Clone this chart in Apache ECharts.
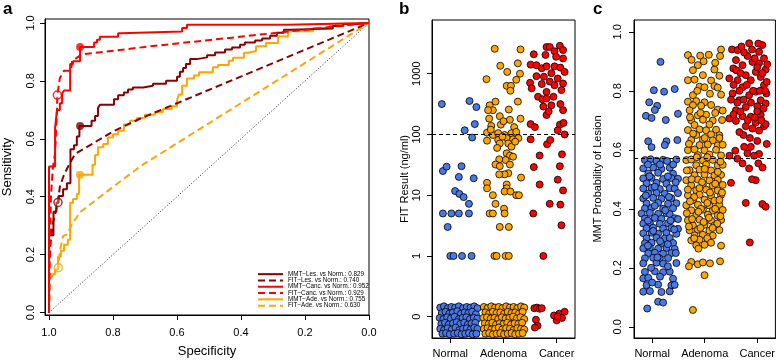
<!DOCTYPE html>
<html><head><meta charset="utf-8">
<script src="https://cdn.jsdelivr.net/npm/echarts@6/dist/echarts.min.js"></script>
<style>html,body{margin:0;padding:0;background:#fff}#c{width:778px;height:363px}</style>
</head><body><div id="c"></div>
<script>
// ---------- Panel a: ROC curves [specificity, sensitivity] ----------
const rocMMTLes = [[1,0],[0.986,0.267],[0.977,0.348],[0.970,0.379],[0.956,0.402],[0.944,0.426],[0.933,0.446],[0.922,0.564],[0.913,0.578],[0.905,0.608],[0.867,0.644],[0.856,0.662],[0.847,0.679],[0.841,0.706],[0.797,0.717],[0.784,0.736],[0.766,0.750],[0.753,0.760],[0.738,0.770],[0.706,0.777],[0.675,0.783],[0.634,0.790],[0.600,0.800],[0.591,0.814],[0.581,0.831],[0.572,0.844],[0.559,0.858],[0.538,0.875],[0.506,0.881],[0.481,0.888],[0.450,0.898],[0.428,0.908],[0.403,0.915],[0.388,0.925],[0.356,0.932],[0.334,0.939],[0.309,0.946],[0.288,0.956],[0.266,0.966],[0.247,0.976],[0.113,0.981],[0.081,0.989],[0.038,0.996],[0,1]];
const rocFITLes = [[1,0],[1,0.166],[0.994,0.251],[0.988,0.308],[0.972,0.380],[0.966,0.435],[0.953,0.476],[0.934,0.517],[0.919,0.547],[0.800,0.625],[0.716,0.669],[0,1]];
const rocMMTCanc = [[1,0],[0.981,0.504],[0.975,0.638],[0.966,0.699],[0.959,0.723],[0.953,0.756],[0.934,0.767],[0.925,0.858],[0.903,0.868],[0.859,0.917],[0.850,0.932],[0.841,0.942],[0.784,0.952],[0.775,0.964],[0.584,0.970],[0.569,0.982],[0.256,0.994],[0,1]];
const rocFITCanc = [[1,0],[0.998,0.15],[0.994,0.40],[0.988,0.50],[0.981,0.55],[0.975,0.70],[0.974,0.751],[0.966,0.81],[0.953,0.835],[0.931,0.835],[0.928,0.868],[0.898,0.891],[0.684,0.919],[0,1]];
const rocMMTAde = [[1,0],[0.981,0.132],[0.972,0.149],[0.963,0.193],[0.953,0.213],[0.941,0.234],[0.934,0.251],[0.925,0.379],[0.913,0.392],[0.906,0.409],[0.864,0.476],[0.856,0.510],[0.847,0.544],[0.831,0.571],[0.816,0.582],[0.800,0.604],[0.784,0.616],[0.766,0.628],[0.747,0.649],[0.725,0.662],[0.700,0.672],[0.669,0.683],[0.644,0.692],[0.616,0.703],[0.600,0.712],[0.594,0.733],[0.584,0.753],[0.569,0.783],[0.547,0.808],[0.531,0.818],[0.488,0.830],[0.472,0.847],[0.438,0.855],[0.425,0.869],[0.391,0.880],[0.378,0.897],[0.353,0.903],[0.322,0.919],[0.284,0.931],[0.253,0.953],[0.175,0.971],[0.122,0.982],[0.103,0.989],[0.044,0.997],[0,1]];
const rocFITAde = [[1,0],[0.997,0.116],[0.995,0.122],[0.971,0.155],[0.966,0.213],[0.956,0.264],[0.944,0.270],[0.928,0.305],[0.903,0.346],[0.841,0.399],[0.716,0.504],[0,1]];
const mmtCutPoints = [[0.903,0.644],[0.903,0.917],[0.903,0.476]];   // Les, Canc, Ade
const fitCutPoints = [[0.972,0.380],[0.974,0.751],[0.971,0.155]];   // Les, Canc, Ade
const chanceLine = [[1,0],[0,1]];
const rocLabels = ['MMT\u2212Les. vs Norm.: 0.829','FIT\u2212Les. vs Norm.: 0.740','MMT\u2212Canc. vs Norm.: 0.952','FIT\u2212Canc. vs Norm.: 0.929','MMT\u2212Ade. vs Norm.: 0.755','FIT\u2212Ade. vs Norm.: 0.630'];
const specTicks = [0,0.2,0.4,0.6,0.8,1.0];
const sensTicks = [0,0.2,0.4,0.6,0.8,1.0];

// ---------- Groups ----------
const groups = ['Normal','Adenoma','Cancer'];

// ---------- Panel b: FIT results (ng/ml), [jittered x, value] ----------
const fitNormal = [[0.84,316],[1.36,355],[1.49,282],[1.27,117],[1.46,148],[1.41,89],[0.86,25],[0.93,29.5],[1.21,30],[1.16,20],[1.44,19],[1.09,11.7],[1.17,10.5],[1.25,9.3],[1.35,7.2],[0.86,5],[1.02,5],[1.16,5],[1.35,5],[0.95,3],[1.00,1],[1.06,1],[1.22,1],[1.40,1]];
const fitAdenoma = [[1.835,2570],[2.32,2510],[1.94,1350],[2.07,1070],[2.27,1480],[2.31,1000],[1.68,813],[2.24,794],[2.06,631],[2.14,631],[2.13,525],[1.85,347],[1.74,302],[1.80,251],[1.71,251],[2.10,257],[2.27,347],[1.93,200],[1.73,182],[2.12,174],[2.32,182],[1.77,138],[1.95,145],[2.20,132],[1.69,107],[1.80,98],[1.90,105],[2.02,98],[2.15,105],[2.24,110],[1.69,79],[1.90,81],[2.06,87],[2.18,83],[2.28,87],[1.93,71],[2.09,71],[2.15,63],[2.06,49],[2.12,45],[2.18,43],[2.04,38],[1.92,39],[1.85,32],[2.12,32],[1.93,30],[2.09,23],[2.02,22],[1.92,22],[2.33,19.5],[2.06,15],[1.69,16],[1.69,13],[2.06,13],[2.02,11.5],[2.24,10],[1.80,10],[2.29,10],[2.13,11.5],[1.85,7.2],[1.74,5],[1.80,5],[2.01,6],[2.02,5],[1.93,3],[2.10,3],[1.83,1],[1.87,1],[2.04,1],[2.10,1],[1.98,92],[2.22,76],[1.76,120],[2.00,165],[1.88,60]];
const fitCancer = [[2.57,2090],[2.81,2750],[2.51,1410],[2.62,1380],[2.72,1230],[2.81,1320],[2.62,912],[2.50,708],[2.53,575],[2.72,676],[2.65,417],[2.73,380],[2.75,288],[2.81,209],[2.51,148],[2.59,132],[2.51,83],[2.82,69],[2.57,29],[2.68,45],[2.68,15],[2.56,5],[2.87,7.2],[2.75,1],[2.87,2750],[3.06,2880],[3.12,2450],[2.96,2340],[2.79,2040],[2.99,1900],[3.12,1780],[2.96,1320],[3.07,1260],[3.15,1070],[2.76,891],[2.90,1020],[3.02,832],[2.87,741],[2.96,646],[3.12,692],[3.09,537],[2.81,501],[2.81,389],[2.94,417],[3.07,316],[2.90,302],[2.85,240],[3.12,251],[3.06,145],[3.13,155],[3.02,117],[3.15,100],[2.88,81],[3.10,47],[3.06,30],[3.02,18],[3.12,12],[3.07,7],[3.09,3.2]];
// FIT = 0 results, drawn in the "0" band: [jittered x, jittered axis position]
const fitZeroNormal = [[0.81,-0.85],[0.88,-0.83],[0.95,-0.86],[1.02,-0.84],[1.09,-0.85],[1.16,-0.83],[1.24,-0.86],[1.31,-0.84],[1.38,-0.85],[1.45,-0.83],[1.51,-0.86],[0.84,-0.94],[0.91,-0.92],[0.98,-0.95],[1.05,-0.93],[1.13,-0.91],[1.20,-0.95],[1.27,-0.93],[1.34,-0.94],[1.41,-0.92],[1.48,-0.96],[0.80,-1.02],[0.87,-1.04],[0.94,-1.01],[1.01,-1.03],[1.08,-1.00],[1.16,-1.04],[1.23,-1.02],[1.30,-1.01],[1.37,-1.04],[1.44,-1.02],[1.51,-1.03],[0.83,-1.12],[0.90,-1.10],[0.97,-1.13],[1.05,-1.11],[1.12,-1.09],[1.19,-1.12],[1.26,-1.10],[1.33,-1.13],[1.40,-1.11],[1.47,-1.10],[0.81,-1.20],[0.88,-1.22],[0.95,-1.19],[1.03,-1.21],[1.10,-1.18],[1.17,-1.22],[1.24,-1.20],[1.31,-1.19],[1.38,-1.21],[1.45,-1.18],[1.51,-1.20],[0.85,-1.28],[0.92,-1.27],[0.99,-1.29],[1.07,-1.28],[1.14,-1.27],[1.21,-1.29],[1.28,-1.28],[1.35,-1.27],[1.42,-1.29],[1.49,-1.28]];
const fitZeroAdenoma = [[1.63,-0.84],[1.70,-0.86],[1.77,-0.83],[1.84,-0.85],[1.91,-0.84],[1.98,-0.86],[2.05,-0.83],[2.12,-0.85],[2.19,-0.84],[2.26,-0.86],[2.33,-0.83],[2.39,-0.85],[1.66,-0.93],[1.73,-0.95],[1.80,-0.92],[1.87,-0.94],[1.94,-0.93],[2.01,-0.95],[2.08,-0.92],[2.15,-0.94],[2.22,-0.93],[2.29,-0.95],[2.36,-0.92],[1.62,-1.02],[1.69,-1.01],[1.76,-1.03],[1.83,-1.02],[1.90,-1.04],[1.97,-1.01],[2.04,-1.03],[2.11,-1.02],[2.18,-1.00],[2.25,-1.03],[2.32,-1.01],[2.39,-1.04],[1.65,-1.11],[1.72,-1.12],[1.79,-1.10],[1.86,-1.13],[1.93,-1.11],[2.00,-1.12],[2.07,-1.10],[2.14,-1.13],[2.21,-1.11],[2.28,-1.12],[2.35,-1.10],[1.63,-1.20],[1.70,-1.19],[1.77,-1.21],[1.84,-1.20],[1.91,-1.18],[1.98,-1.21],[2.05,-1.19],[2.12,-1.20],[2.19,-1.22],[2.26,-1.19],[2.33,-1.20],[2.39,-1.21],[1.66,-1.28],[1.73,-1.27],[1.80,-1.29],[1.87,-1.28],[1.94,-1.27],[2.01,-1.29],[2.08,-1.28],[2.15,-1.27],[2.22,-1.29],[2.29,-1.28],[2.36,-1.27]];
const fitZeroCancer = [[2.58,-0.86],[2.63,-0.85],[2.68,-0.87],[2.72,-0.86],[2.61,-1.05],[2.64,-1.15],[2.59,-1.18],[2.95,-0.98],[3.00,-1.06],[3.05,-0.95],[3.10,-1.02],[3.15,-0.92],[3.02,-1.00]];
const fitTicks = [0,1,10,100,1000];
const fitCutoff = 100;

// ---------- Panel c: MMT probability of lesion, [jittered x, value] ----------
const mmtNormal = [[1.159,0.898],[1.033,0.802],[1.227,0.797],[1.429,0.806],[0.944,0.761],[1.095,0.749],[0.882,0.715],[0.989,0.708],[1.052,0.735],[1.259,0.701],[1.491,0.722],[0.925,0.629],[0.989,0.609],[1.272,0.629],[1.240,0.616],[1.480,0.633],
[0.863,0.565],[0.970,0.568],[1.083,0.563],[1.209,0.566],[1.284,0.562],[1.461,0.567],[0.831,0.537],[1.020,0.540],[1.177,0.535],[1.335,0.539],[0.926,0.520],[1.114,0.522],[1.398,0.519],[0.831,0.503],[0.989,0.505],[1.209,0.501],[1.366,0.504],[1.492,0.502],[0.894,0.486],[1.083,0.488],[1.272,0.485],[0.831,0.469],[0.989,0.471],[1.146,0.467],[1.335,0.470],[1.429,0.468],[0.926,0.452],[1.083,0.454],[1.240,0.451],[1.492,0.453],[0.831,0.435],[1.020,0.437],[1.177,0.434],[1.366,0.436],[0.894,0.418],[1.114,0.420],[1.303,0.417],[1.461,0.419],[0.863,0.401],[0.989,0.403],[1.209,0.400],[1.398,0.402],[0.800,0.384],[0.957,0.386],[1.114,0.383],[1.272,0.385],[1.335,0.382],[0.863,0.367],[1.052,0.369],[1.177,0.366],[1.429,0.368],[1.492,0.365],[0.831,0.350],[0.957,0.352],[1.146,0.349],[1.303,0.351],[0.894,0.334],[1.020,0.336],[1.209,0.333],[1.366,0.335],[1.492,0.332],[0.831,0.317],[0.989,0.319],[1.114,0.316],[1.272,0.318],[1.461,0.315],[0.894,0.300],[1.083,0.302],[1.240,0.299],[1.335,0.301],[0.863,0.283],[0.989,0.285],[1.177,0.282],[1.398,0.284],[0.831,0.266],[0.957,0.268],[1.114,0.265],[1.272,0.267],[1.429,0.264],[0.926,0.249],[1.052,0.251],[1.209,0.248],[1.366,0.250],[0.863,0.232],[1.020,0.234],[1.146,0.231],[1.303,0.233],[0.831,0.215],[1.083,0.217],[1.209,0.214],[1.461,0.216],[0.863,0.186],[1.052,0.188],[1.209,0.185],[1.335,0.187],[0.831,0.164],[0.926,0.166],[1.398,0.163],[0.894,0.141],[1.114,0.143],[1.366,0.140],[1.429,0.142],[0.831,0.119],[0.957,0.121],[1.177,0.118],[1.335,0.120],[1.114,0.085],[1.209,0.082],[0.907,0.062],
[0.92,0.55],[1.15,0.55],[1.40,0.55],[0.95,0.51],[1.30,0.51],[1.05,0.475],[1.45,0.49],[0.88,0.445],[1.32,0.44],[1.05,0.41],[1.25,0.395],[0.92,0.36],[1.35,0.36],[1.02,0.325],[1.42,0.33],[1.15,0.29],[0.92,0.275],[1.30,0.28],[1.10,0.235],[1.45,0.25],[0.98,0.20],[1.30,0.205],[1.15,0.17],[1.00,0.15]];
const mmtAdenoma = [[2.311,0.940],[1.681,0.921],[1.914,0.919],[2.078,0.922],[2.292,0.918],[1.870,0.887],[1.776,0.870],[2.185,0.872],[1.965,0.853],[2.279,0.851],[1.681,0.836],[1.807,0.838],[2.122,0.835],[1.902,0.814],[1.996,0.812],[2.185,0.816],[2.248,0.811],[1.776,0.785],[2.311,0.787],[1.681,0.763],[1.839,0.765],[1.996,0.761],[1.776,0.751],[1.933,0.749],[2.122,0.752],[1.713,0.734],[2.248,0.736],[2.342,0.733],[1.870,0.717],[2.027,0.719],[1.744,0.700],[1.965,0.702],[2.153,0.699],[2.330,0.701],[1.807,0.684],[2.090,0.686],[1.681,0.667],[1.902,0.669],[2.027,0.666],[2.216,0.668],[1.839,0.650],[2.122,0.652],[2.279,0.649],[1.744,0.633],[1.965,0.635],[2.153,0.632],[1.902,0.616],[2.059,0.618],[2.248,0.615],[2.342,0.617],[1.681,0.599],[1.807,0.601],[1.996,0.598],[2.216,0.600],[1.870,0.582],[2.090,0.584],[2.311,0.581],[1.650,0.565],[1.744,0.567],[1.965,0.564],[2.153,0.566],[1.839,0.548],[2.027,0.550],[2.248,0.547],[2.342,0.549],[1.713,0.531],[1.902,0.533],[2.122,0.530],[1.807,0.514],[1.996,0.516],[2.185,0.513],[2.311,0.515],[1.650,0.497],[1.870,0.499],[2.090,0.496],[2.248,0.498],[1.744,0.480],[1.965,0.482],[2.153,0.479],[2.342,0.481],[1.839,0.463],[2.027,0.465],[2.248,0.462],[1.681,0.446],[1.902,0.448],[2.122,0.445],[2.311,0.447],[1.776,0.429],[1.996,0.431],[2.185,0.428],[1.650,0.412],[1.870,0.414],[2.090,0.411],[2.279,0.413],[1.744,0.395],[1.965,0.397],[2.153,0.394],[2.342,0.396],[1.839,0.378],[2.059,0.380],[2.248,0.377],[1.681,0.361],[1.902,0.363],[2.122,0.360],[2.311,0.362],[1.776,0.344],[1.996,0.346],[2.185,0.343],[1.713,0.327],[1.870,0.329],[2.090,0.326],[2.279,0.328],[1.807,0.310],[1.965,0.312],[2.153,0.309],[1.744,0.293],[1.902,0.295],[2.059,0.292],[1.839,0.276],[1.996,0.278],[2.311,0.275],[1.744,0.220],[1.870,0.212],[1.965,0.218],[2.292,0.222],[1.996,0.175],[1.776,0.057],
[1.75,0.905],[1.98,0.90],[2.20,0.895],[1.86,0.80],[2.10,0.79],[1.72,0.71],[1.92,0.725],[2.20,0.725],[1.78,0.655],[2.00,0.64],[2.28,0.64],[1.70,0.62],[1.85,0.575],[2.05,0.575],[2.30,0.56],[1.66,0.53],[2.00,0.535],[2.25,0.525],[1.75,0.50],[1.95,0.49],[2.20,0.485],[1.68,0.465],[1.90,0.47],[2.10,0.455],[2.33,0.455],[1.80,0.44],[2.05,0.42],[2.28,0.43],[1.72,0.425],[1.93,0.40],[2.20,0.40],[1.66,0.385],[1.88,0.39],[2.08,0.37],[2.30,0.375],[1.76,0.365],[1.98,0.355],[2.24,0.35],[1.70,0.34],[1.92,0.335],[2.15,0.335],[1.80,0.30],[2.05,0.30],[1.88,0.265],[2.12,0.285],[1.70,0.205],[2.10,0.215]];
const mmtCancer = [[2.845,0.961],[3.097,0.955],[2.519,0.940],[2.626,0.938],[3.034,0.932],[2.814,0.918],[3.128,0.910],[2.594,0.904],[2.719,0.887],[2.908,0.898],[2.544,0.876],[3.034,0.893],[2.468,0.842],[2.782,0.853],[2.971,0.864],[3.160,0.872],[2.626,0.836],[2.877,0.836],[3.065,0.847],[2.719,0.812],[3.128,0.819],[2.531,0.791],[2.971,0.797],[2.845,0.785],[2.657,0.768],[3.065,0.768],[3.173,0.791],[2.782,0.745],[2.594,0.734],[3.002,0.748],[3.160,0.757],[2.719,0.714],[2.468,0.706],[2.877,0.712],[3.065,0.718],[2.594,0.698],[2.971,0.692],[2.782,0.680],[3.128,0.680],[2.908,0.672],[3.034,0.665],[3.160,0.687],[2.738,0.650],[2.581,0.597],[2.814,0.588],[3.034,0.586],[2.877,0.610],[2.500,0.488],[2.719,0.554],[2.845,0.537],[3.021,0.554],[2.971,0.497],[2.782,0.420],[3.097,0.416],[3.160,0.407],[2.858,0.286],
[2.60,0.87],[2.68,0.86],[2.75,0.93],[2.90,0.94],[2.95,0.91],[3.00,0.88],[3.10,0.86],[3.18,0.83],[2.55,0.82],[2.66,0.80],[2.80,0.82],[2.92,0.80],[3.05,0.80],[3.15,0.80],[2.50,0.77],[2.62,0.76],[2.74,0.77],[2.88,0.76],[3.00,0.73],[3.12,0.74],[2.55,0.72],[2.68,0.73],[2.82,0.70],[2.95,0.71],[3.08,0.70],[2.66,0.66],[2.86,0.64],[3.00,0.63],[3.18,0.62],[2.75,0.61],[2.94,0.58],[2.62,0.57],[3.10,0.54],[2.90,0.50],[2.47,0.58],[3.19,0.89],[2.70,0.95],[3.02,0.96]];
const mmtTicks = [0,0.2,0.4,0.6,0.8,1.0];
const mmtCutoff = 0.571;

// ---------- styles ----------
const FONT = '"Liberation Sans", Arial, Helvetica, sans-serif';
const C_LES = '#8B0000', C_CANC = '#FF0000', C_ADE = '#FFA500';
const C_NORMAL = '#4A78E6', C_ADENOMA = '#FFA500', C_CANCER = '#FF0000';
const DASH = [7, 4];

const chart = echarts.init(document.getElementById('c'), null, {renderer: 'canvas'});

function baseAxis(extra) {
  return Object.assign({
    type: 'value',
    splitLine: {show: false},
    axisLine: {show: true, onZero: false, lineStyle: {color: '#000', width: 1}},
    axisTick: {show: true, inside: false, length: 5, lineStyle: {color: '#000', width: 1}},
    axisLabel: {color: '#000', fontFamily: FONT, fontSize: 11},
    nameTextStyle: {color: '#000', fontFamily: FONT}
  }, extra);
}

const rocSeries = [
  [rocLabels[0], rocMMTLes, C_LES, true],
  [rocLabels[1], rocFITLes, C_LES, false],
  [rocLabels[2], rocMMTCanc, C_CANC, true],
  [rocLabels[3], rocFITCanc, C_CANC, false],
  [rocLabels[4], rocMMTAde, C_ADE, true],
  [rocLabels[5], rocFITAde, C_ADE, false]
];
const drawOrder = [5, 4, 1, 0, 3, 2];

const series = [];
series.push({type: 'line', xAxisIndex: 0, yAxisIndex: 0, data: chanceLine, symbol: 'none', silent: true,
  lineStyle: {color: '#222', width: 1, type: [1, 2]}, z: 1});
drawOrder.forEach(i => {
  const [name, data, color, solid] = rocSeries[i];
  series.push({
    type: 'line', name, xAxisIndex: 0, yAxisIndex: 0, data, symbol: 'none',
    step: solid ? 'start' : false,
    lineStyle: {color, width: 2, type: solid ? 'solid' : DASH},
    itemStyle: {color}, z: 2
  });
});
const cutColors = [C_LES, C_CANC, C_ADE];
series.push({type: 'scatter', xAxisIndex: 0, yAxisIndex: 0, symbolSize: 8, z: 5,
  data: mmtCutPoints.map((p, i) => ({value: p, itemStyle: {color: cutColors[i]}}))});
series.push({type: 'scatter', xAxisIndex: 0, yAxisIndex: 0, symbolSize: 8, z: 5,
  data: fitCutPoints.map((p, i) => ({value: p, itemStyle: {color: 'rgba(255,255,255,0.35)', borderColor: cutColors[i], borderWidth: 1.5}}))});

function pts(xi, yi, data, color) {
  return {type: 'scatter', xAxisIndex: xi, yAxisIndex: yi, data, symbolSize: 7, z: 3,
    itemStyle: {color, borderColor: '#000', borderWidth: 0.8, opacity: 1}};
}
const lg = v => Math.log10(v);
series.push(pts(1, 1, fitNormal.map(p => [p[0], lg(p[1])]), C_NORMAL));
series.push(pts(1, 1, fitZeroNormal, C_NORMAL));
series.push(pts(1, 1, fitAdenoma.map(p => [p[0], lg(p[1])]), C_ADENOMA));
series.push(pts(1, 1, fitZeroAdenoma, C_ADENOMA));
series.push(pts(1, 1, fitCancer.map(p => [p[0], lg(p[1])]), C_CANCER));
series.push(pts(1, 1, fitZeroCancer, C_CANCER));
series.push({type: 'scatter', xAxisIndex: 1, yAxisIndex: 1, data: [], z: 6,
  markLine: {silent: true, symbol: 'none', label: {show: false}, animation: false,
    lineStyle: {color: '#000', type: [4, 3], width: 1}, data: [{yAxis: lg(fitCutoff)}]}});
series.push(pts(2, 2, mmtNormal, C_NORMAL));
series.push(pts(2, 2, mmtAdenoma, C_ADENOMA));
series.push(pts(2, 2, mmtCancer, C_CANCER));
series.push({type: 'scatter', xAxisIndex: 2, yAxisIndex: 2, data: [], z: 6,
  markLine: {silent: true, symbol: 'none', label: {show: false}, animation: false,
    lineStyle: {color: '#000', type: [4, 3], width: 1}, data: [{yAxis: mmtCutoff}]}});

const groupAxis = (gi) => baseAxis({
  gridIndex: gi, min: 0.655, max: 3.345,
  axisTick: {show: true, length: 5, customValues: [1, 2, 3], lineStyle: {color: '#000'}},
  axisLabel: {customValues: [1, 2, 3], formatter: v => groups[Math.round(v) - 1], color: '#000', fontFamily: FONT, fontSize: 11, margin: 10}
});

const option = {
  animation: false,
  backgroundColor: '#fff',
  textStyle: {fontFamily: FONT},
  grid: [
    {left: 45, top: 19, width: 324, height: 303, show: true, borderColor: '#000', borderWidth: 1, backgroundColor: 'transparent'},
    {left: 432, top: 20, width: 143, height: 318, show: true, borderColor: '#000', borderWidth: 1, backgroundColor: 'transparent'},
    {left: 634, top: 20, width: 143, height: 318, show: true, borderColor: '#000', borderWidth: 1, backgroundColor: 'transparent'}
  ],
  xAxis: [
    baseAxis({gridIndex: 0, inverse: true, min: 0, max: 1.0125,
      axisTick: {show: true, length: 5, customValues: specTicks, lineStyle: {color: '#000'}},
      axisLabel: {customValues: specTicks, formatter: v => v.toFixed(1), color: '#000', fontFamily: FONT, fontSize: 11, margin: 12},
      name: 'Specificity', nameLocation: 'middle', nameGap: 30,
      nameTextStyle: {fontSize: 13, color: '#000', fontFamily: FONT}}),
    groupAxis(1),
    groupAxis(2)
  ],
  yAxis: [
    baseAxis({gridIndex: 0, min: -0.0085, max: 1.0135,
      axisTick: {show: true, length: 5, customValues: sensTicks, lineStyle: {color: '#000'}},
      axisLabel: {customValues: sensTicks, formatter: v => v.toFixed(1), rotate: 90, color: '#000', fontFamily: FONT, fontSize: 11, margin: 9},
      name: 'Sensitivity', nameLocation: 'middle', nameGap: 31,
      nameTextStyle: {fontSize: 13, color: '#000', fontFamily: FONT}}),
    baseAxis({gridIndex: 1, min: -1.351, max: 3.884,
      axisTick: {show: true, length: 5, customValues: [-1, 0, 1, 2, 3], lineStyle: {color: '#000'}},
      axisLabel: {customValues: [-1, 0, 1, 2, 3], formatter: v => String(fitTicks[Math.round(v) + 1]), rotate: 90, color: '#000', fontFamily: FONT, fontSize: 11, margin: 10},
      name: 'FIT Result (ng/ml)', nameLocation: 'middle', nameGap: 21,
      nameTextStyle: {fontSize: 11, color: '#000', fontFamily: FONT}}),
    baseAxis({gridIndex: 2, min: -0.038, max: 1.04,
      axisTick: {show: true, length: 5, customValues: mmtTicks, lineStyle: {color: '#000'}},
      axisLabel: {customValues: mmtTicks, formatter: v => v.toFixed(1), rotate: 90, color: '#000', fontFamily: FONT, fontSize: 11, margin: 11},
      name: 'MMT Probability of Lesion', nameLocation: 'middle', nameGap: 31,
      nameTextStyle: {fontSize: 11, color: '#000', fontFamily: FONT}})
  ],
  legend: {
    data: rocLabels, orient: 'vertical', left: 257, top: 271, padding: 0,
    itemWidth: 25, itemHeight: 6.3, itemGap: 0, selectedMode: false,
    itemStyle: {opacity: 0, borderWidth: 0},
    textStyle: {fontSize: 6.3, lineHeight: 6.3, color: '#000', fontFamily: FONT}
  },
  graphic: [
    {type: 'text', left: 3, top: 1, style: {text: 'a', font: 'bold 17px ' + FONT, fill: '#000'}},
    {type: 'text', left: 399, top: 1, style: {text: 'b', font: 'bold 17px ' + FONT, fill: '#000'}},
    {type: 'text', left: 593, top: 1, style: {text: 'c', font: 'bold 17px ' + FONT, fill: '#000'}}
  ],
  series
};
chart.setOption(option);
</script>
</body></html>
